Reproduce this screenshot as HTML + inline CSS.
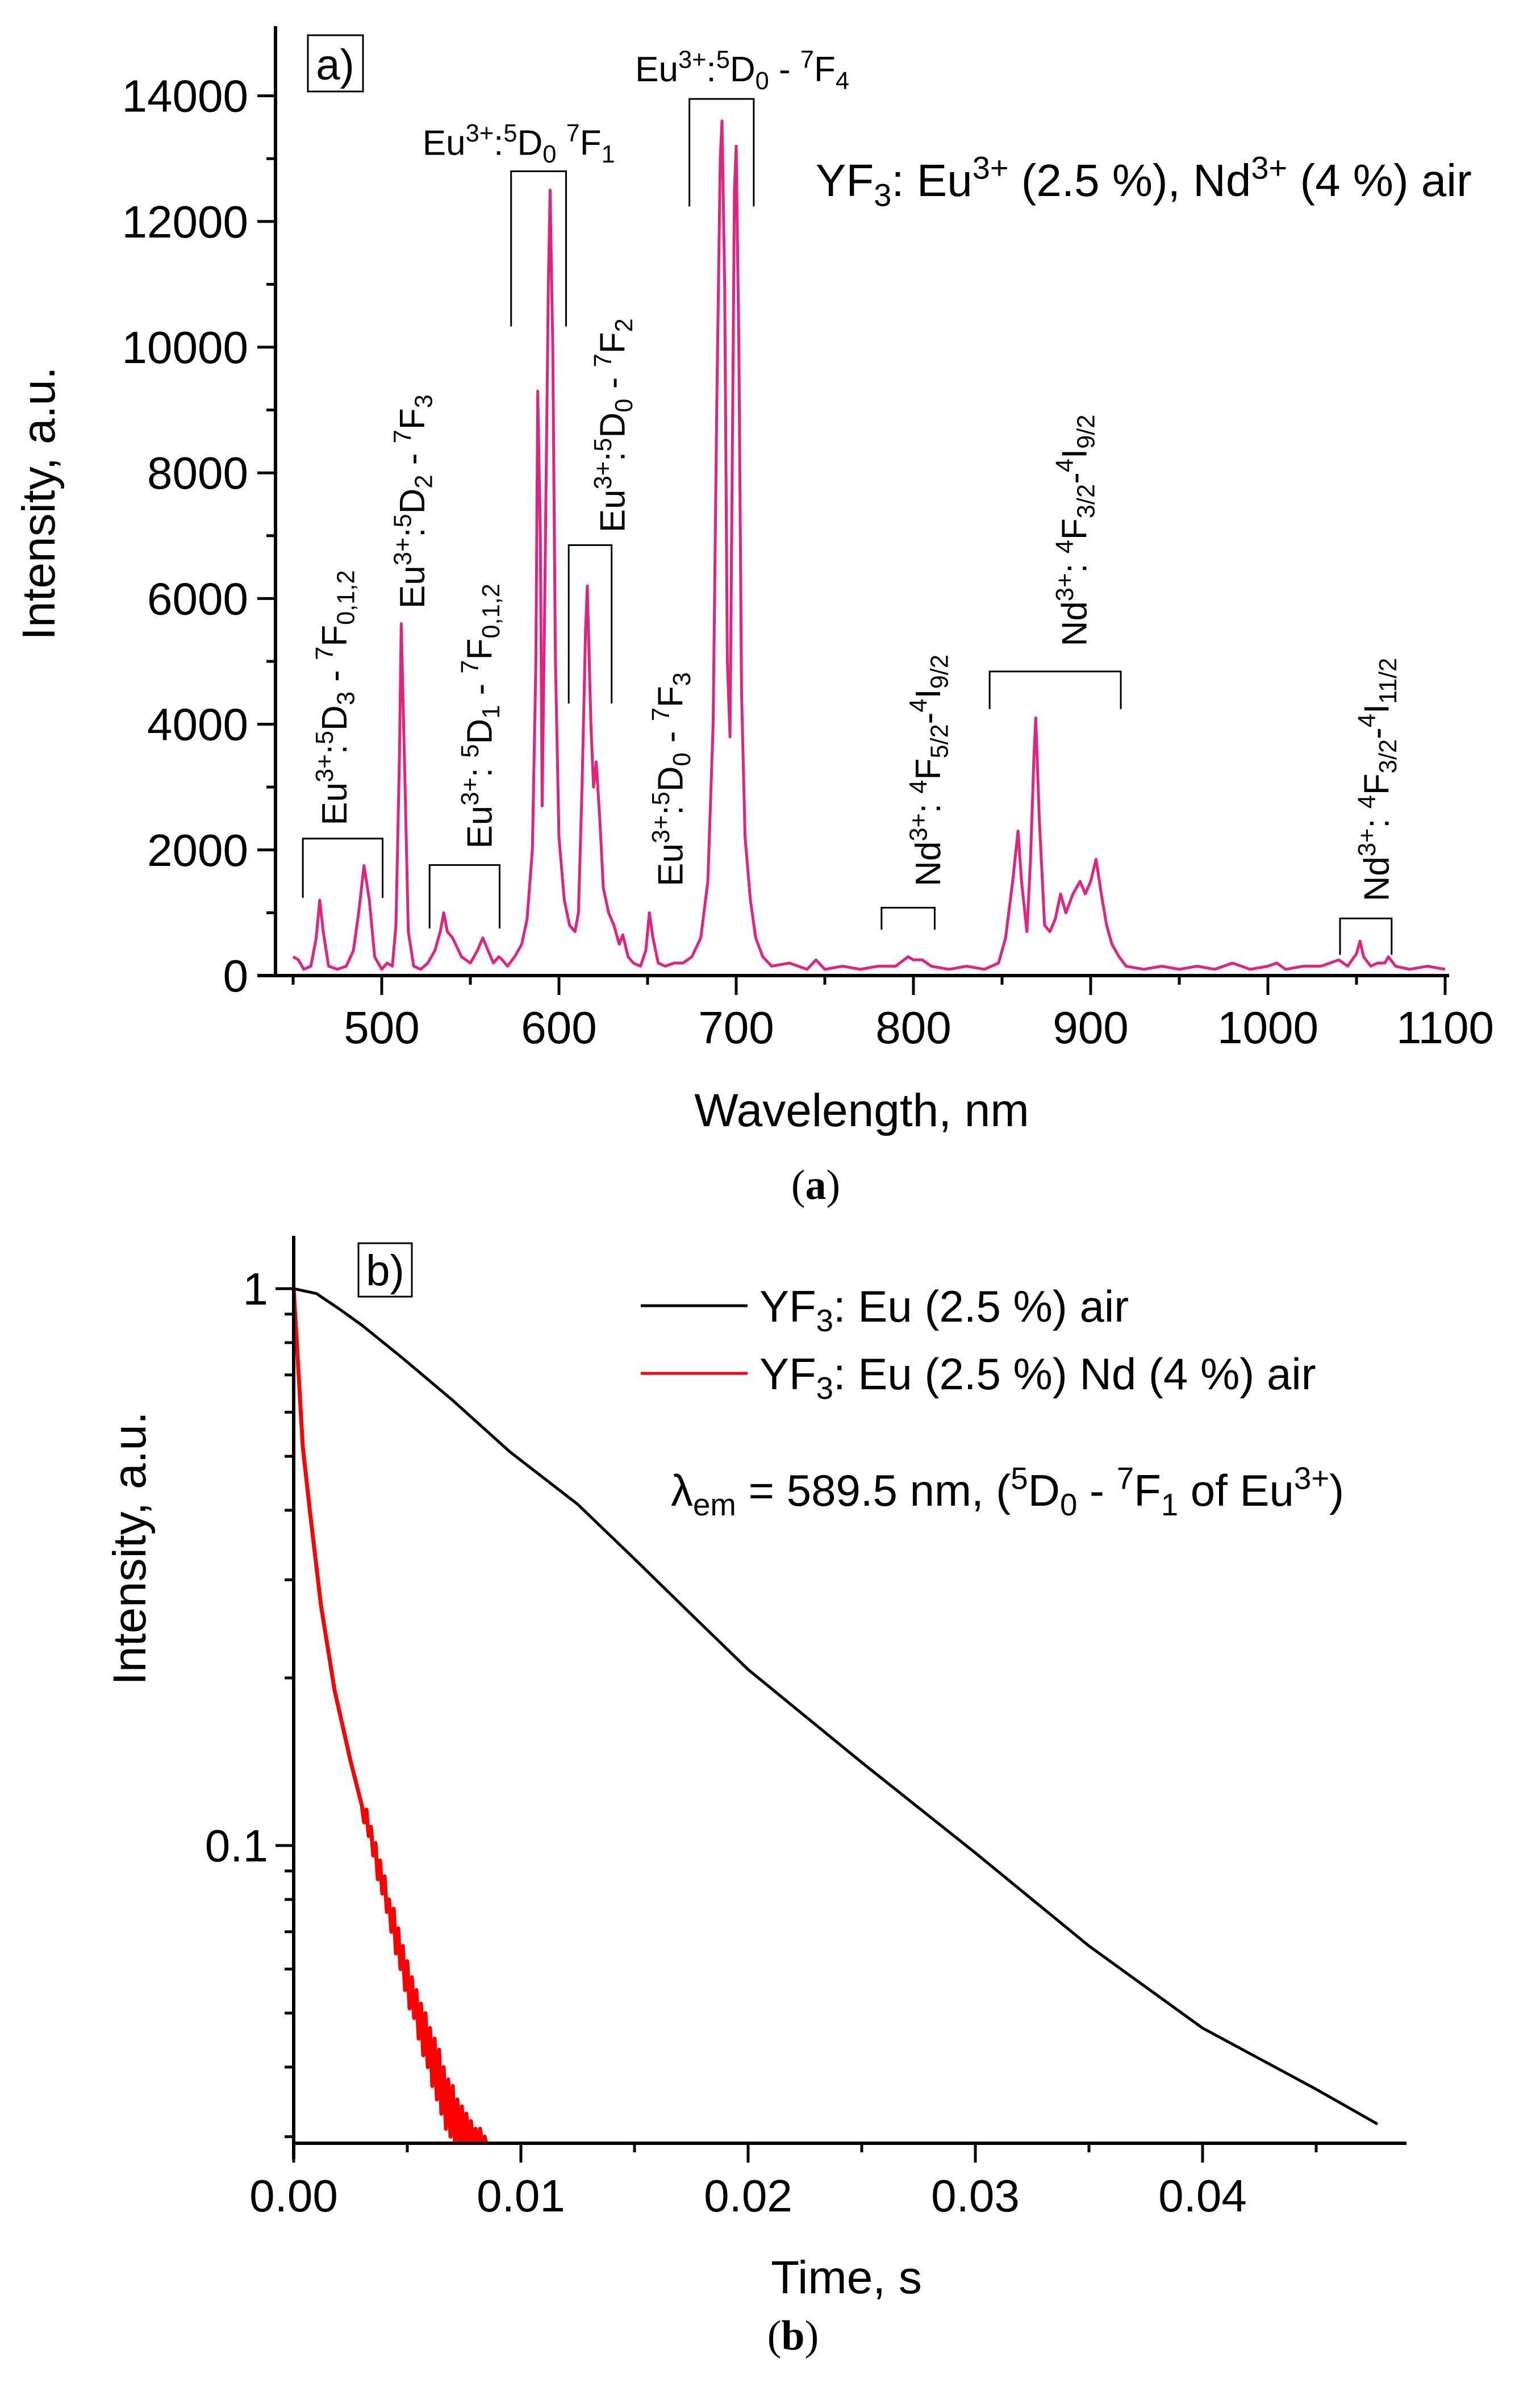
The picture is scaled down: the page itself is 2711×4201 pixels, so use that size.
<!DOCTYPE html>
<html><head><meta charset="utf-8">
<style>
html,body{margin:0;padding:0;background:#fff;}
svg{display:block;font-family:"Liberation Sans",sans-serif;}
</style></head>
<body>
<svg id="fig" width="2711" height="4201" viewBox="0 0 2711 4201" xmlns="http://www.w3.org/2000/svg">
<rect width="2711" height="4201" fill="#fff"/>
<g id="chartA"></g>
<g id="chartB"></g>
</svg>
<script>
// ===== Chart A data =====
const wavelengths = [450,453,456,460,463,465,467,470,475,480,484,487,490,493,496,500,503,506,508,510,511,513,515,518,522,526,530,533,535,537,540,545,550,554,557,560,563,566,568,571,575,579,582,585,587,588,589.5,590.5,592,594,595,596.5,598,600,603,606,609,611,613,615,616,618,619.5,621,623,625,628,631,634,636,639,642,646,649,651,653,656,660,665,670,675,680,684,687,689,691,692,693.5,695,696.5,698,699,700,701.5,703,705,708,711,715,720,730,740,745,750,760,770,780,790,797,800,805,810,820,830,840,848,852,856,859,861,864,866,868,869,871,874,877,880,883,886,890,894,897,900,903,906,909,912,916,920,930,940,950,960,970,980,990,1000,1005,1010,1020,1030,1040,1045,1050,1052,1054,1058,1062,1066,1068,1072,1080,1090,1100];
const intensities = [300,250,100,150,600,1200,700,150,100,150,400,1000,1750,1200,300,100,200,150,800,3500,5600,3200,700,150,100,200,400,700,1000,700,600,300,200,400,600,400,200,300,250,150,300,500,900,2000,5000,9300,7000,2700,6000,11000,12500,10000,5000,2200,1200,800,700,1000,3000,5500,6200,4000,3000,3400,2500,1400,1000,800,500,650,300,200,150,400,1000,600,200,150,200,200,300,600,1500,4000,9000,13000,13600,11000,5000,3800,9000,12500,13200,10000,4500,2200,1200,600,300,150,200,100,250,100,150,100,150,150,300,250,250,150,100,150,100,200,600,1500,2300,1500,700,1800,3500,4100,2500,800,700,900,1300,1000,1300,1500,1300,1500,1850,1300,800,500,300,150,100,150,100,150,100,200,100,150,200,100,150,150,250,150,350,550,300,150,200,200,300,150,100,150,100];
const yTicksA = [0,2000,4000,6000,8000,10000,12000,14000];
const xTicksA = [500,600,700,800,900,1000,1100];
const bracketStart = [455.5,527,573,605.5,673.6,782,843,1040.7];
const bracketEnd   = [500.5,566.5,604,629.7,709.9,812,917,1069.8];
const bracketTop   = [2180,1760,12800,6850,13950,1080,4840,910];
const bracketLegL  = [1236,750,10330,4330,12240,730,4240,330];
const bracketLegR  = [1236,750,10330,4330,12240,730,4240,330];
const labelText = ["Eu^{3+}:^{5}D_{3} - ^{7}F_{0,1,2}","Eu^{3+}:^{5}D_{2} - ^{7}F_{3}","Eu^{3+}: ^{5}D_{1} - ^{7}F_{0,1,2}","Eu^{3+}:^{5}D_{0} - ^{7}F_{2}","Eu^{3+}:^{5}D_{0} - ^{7}F_{3}","Nd^{3+}: ^{4}F_{5/2}-^{4}I_{9/2}","Nd^{3+}: ^{4}F_{3/2}-^{4}I_{9/2}","Nd^{3+}: ^{4}F_{3/2}-^{4}I_{11/2}"];
const labelNm = [473,517,555,630,662.6,808,890.6,1061];
const labelVal = [2390,5840,2020,7050,1420,1420,5240,1180];
const hLabelText = ["Eu^{3+}:^{5}D_{0}  ^{7}F_{1}","Eu^{3+}:^{5}D_{0} - ^{7}F_{4}"];
const hLabelNm = [523,643];
const hLabelVal = [13060,14230];

// ===== Chart B data =====
const tBlack = [0,0.001,0.002,0.003,0.0048,0.007,0.0095,0.0125,0.015,0.0175,0.02,0.025,0.03,0.035,0.04,0.045,0.0477];
const vBlack = [1,0.98,0.92,0.86,0.75,0.63,0.51,0.41,0.327,0.26,0.207,0.141,0.097,0.066,0.047,0.0365,0.0316];
const tRed = [0,0.0004,0.00074,0.0012,0.0018,0.0025,0.0030,0.0031,0.0032,0.0033,0.0034,0.0035,0.0036,0.0037,0.0038,0.0039,0.0040,0.0041,0.0042,0.0043,0.0044,0.0045,0.0046,0.0047,0.0048,0.0049,0.0050,0.0051,0.0052,0.0053,0.0054,0.0055,0.0056,0.0057,0.0058,0.0059,0.0060,0.0061,0.0062,0.0063,0.0064,0.0065,0.0066,0.0067,0.0068,0.0069,0.0070,0.0071,0.0072,0.0073,0.0074,0.0075,0.0076,0.0077,0.0078,0.0079,0.0080,0.0081,0.0082,0.0083,0.0084,0.0085];
const vRed = [1,0.52,0.39,0.27,0.19,0.142,0.118,0.110,0.116,0.104,0.108,0.096,0.101,0.087,0.094,0.082,0.088,0.076,0.080,0.070,0.077,0.064,0.071,0.060,0.066,0.055,0.062,0.051,0.058,0.049,0.055,0.045,0.052,0.042,0.050,0.040,0.047,0.037,0.045,0.035,0.043,0.033,0.040,0.031,0.038,0.030,0.037,0.029,0.035,0.029,0.034,0.029,0.033,0.029,0.032,0.029,0.031,0.029,0.031,0.029,0.030,0.029];
const xTicksB = [0,0.01,0.02,0.03,0.04];
const xTickLabelsB = ["0.00","0.01","0.02","0.03","0.04"];
const yTicksB = [1,0.1];
const yTickLabelsB = ["1","0.1"];

const NS="http://www.w3.org/2000/svg";
function mk(tag,attrs,parent){const e=document.createElementNS(NS,tag);for(const k in attrs)e.setAttribute(k,attrs[k]);parent.appendChild(e);return e;}
function rich(el,str,fs){
  const re=/(\^\{[^}]*\}|_\{[^}]*\}|[^\^_]+)/g;let m;let shift=0;
  while((m=re.exec(str))){
    const s=m[0];let txt=s,target=0,size=fs;
    if(s[0]==='^'){txt=s.slice(2,-1);target=-0.38*fs;size=fs*0.7;}
    else if(s[0]==='_'){txt=s.slice(2,-1);target=0.22*fs;size=fs*0.7;}
    const ts=mk('tspan',{dy:(target-shift),'font-size':size},el);
    ts.textContent=txt;shift=target;
  }
}

// ===== Chart A =====
const gA=document.getElementById('chartA');
const A={x0:485,y0:1717,pxPerNm:3.12,pxPerVal:0.1106};
function xA(nm){return 672+(nm-500)*A.pxPerNm;}
function yA(v){return A.y0-v*A.pxPerVal;}
const pink="#e3227f";
let d=wavelengths.map((w,i)=>(i?'L':'M')+xA(w).toFixed(1)+' '+yA(intensities[i]).toFixed(1)).join(' ');
const spec=mk('path',{d:d,fill:'none',stroke:pink,'stroke-width':5,'stroke-linejoin':'round'},gA);


const axA=mk('path',{d:`M${A.x0} 46 V${A.y0+3} M453 ${A.y0} H2551`,stroke:'#000','stroke-width':6,fill:'none'},gA);


for(let v=0;v<=14000;v+=1000){
  const major=v%2000===0;
  mk('line',{x1:A.x0,x2:A.x0-(major?32:16),y1:yA(v),y2:yA(v),stroke:'#000','stroke-width':5},gA);
}
for(let nm=450;nm<=1100;nm+=50){
  const major=nm%100===0;
  mk('line',{x1:xA(nm),x2:xA(nm),y1:A.y0,y2:A.y0+(major?34:16),stroke:'#000','stroke-width':5},gA);
}
yTicksA.forEach(v=>{
  const t=mk('text',{x:A.x0-48,y:yA(v)+28,'text-anchor':'end','font-size':80},gA);t.textContent=String(v);
  
  
});
xTicksA.forEach(v=>{
  const t=mk('text',{x:xA(v),y:1836,'text-anchor':'middle','font-size':80},gA);t.textContent=String(v);
  
  
});
bracketStart.forEach((s,i)=>{
  const b=mk('path',{d:`M${xA(s)} ${yA(bracketLegL[i])} V${yA(bracketTop[i])} H${xA(bracketEnd[i])} V${yA(bracketLegR[i])}`,fill:'none',stroke:'#000','stroke-width':3},gA);
  
  
});
labelText.forEach((s,i)=>{
  const x=xA(labelNm[i])+22,y=yA(labelVal[i]);
  const t=mk('text',{x:0,y:0,'font-size':62,transform:`translate(${x},${y}) rotate(-90)`},gA);
  rich(t,s,62);
  
  
});
hLabelText.forEach((s,i)=>{
  const t=mk('text',{x:xA(hLabelNm[i]),y:yA(hLabelVal[i]),'font-size':62},gA);
  rich(t,s,62);
  
  
});
const boxA=mk('rect',{x:542,y:62,width:97,height:99,fill:'#fff',stroke:'#000','stroke-width':3},gA);


const ta=mk('text',{x:590,y:140,'text-anchor':'middle','font-size':76},gA);ta.textContent='a)';


const sampA=mk('text',{x:1436,y:345,'font-size':80},gA);
rich(sampA,'YF_{3}: Eu^{3+} (2.5 %), Nd^{3+} (4 %) air',80);


const xtA=mk('text',{x:1517,y:1982,'text-anchor':'middle','font-size':82},gA);xtA.textContent='Wavelength, nm';


const ytA=mk('text',{x:0,y:0,'text-anchor':'middle','font-size':82,transform:'translate(96,886) rotate(-90)'},gA);ytA.textContent='Intensity, a.u.';


const capA=mk('text',{x:1436,y:2110,'text-anchor':'middle','font-size':74,'font-family':'Liberation Serif, serif'},gA);
capA.innerHTML='(<tspan font-weight="bold">a</tspan>)';



// ===== Chart B =====
const gB=document.getElementById('chartB');
const B={x0:517,y0:3772,pxPerT:40000,yOne:2268,decade:980};
function xB(t){return B.x0+t*B.pxPerT;}
function yB(v){return B.yOne-Math.log10(v)*B.decade;}
mk('clipPath',{id:'clipB'},gB);
mk('rect',{x:B.x0,y:2150,width:2000,height:B.y0-2150},document.getElementById('clipB'));
const black=mk('path',{d:tBlack.map((t,i)=>(i?'L':'M')+xB(t).toFixed(1)+' '+yB(vBlack[i]).toFixed(1)).join(' '),fill:'none',stroke:'#000','stroke-width':5,'stroke-linejoin':'round','clip-path':'url(#clipB)'},gB);


const red=mk('path',{d:tRed.map((t,i)=>(i?'L':'M')+xB(t).toFixed(1)+' '+yB(vRed[i]).toFixed(1)).join(' '),fill:'none',stroke:'#f00','stroke-width':7,'stroke-linejoin':'round','clip-path':'url(#clipB)'},gB);


const axB=mk('path',{d:`M${B.x0} 2175 V${B.y0+28} M${B.x0-3} ${B.y0} H2476`,stroke:'#000','stroke-width':6,fill:'none'},gB);


for(let k=0;k<=9;k++){
  const t=k*0.005;const major=k%2===0;
  mk('line',{x1:xB(t),x2:xB(t),y1:B.y0,y2:B.y0+(major?34:16),stroke:'#000','stroke-width':5},gB);
}
[1,0.9,0.8,0.7,0.6,0.5,0.4,0.3,0.2,0.1,0.09,0.08,0.07,0.06,0.05,0.04,0.03].forEach(v=>{
  const major=(v===1||v===0.1);
  mk('line',{x1:B.x0,x2:B.x0-(major?32:16),y1:yB(v),y2:yB(v),stroke:'#000','stroke-width':5},gB);
});
xTicksB.forEach((v,i)=>{
  const t=mk('text',{x:xB(v),y:3892,'text-anchor':'middle','font-size':80},gB);t.textContent=xTickLabelsB[i];
  
  
});
yTicksB.forEach((v,i)=>{
  const t=mk('text',{x:B.x0-45,y:yB(v)+28,'text-anchor':'end','font-size':80},gB);t.textContent=yTickLabelsB[i];
  
  
});
const boxB=mk('rect',{x:631,y:2188,width:94,height:94,fill:'#fff',stroke:'#000','stroke-width':3},gB);


const tb=mk('text',{x:678,y:2262,'text-anchor':'middle','font-size':76},gB);tb.textContent='b)';


const lg1=mk('line',{x1:1128,x2:1316,y1:2298,y2:2298,stroke:'#000','stroke-width':5},gB);


const lt1=mk('text',{x:1337,y:2326,'font-size':78},gB);rich(lt1,'YF_{3}: Eu (2.5 %) air',78);


const lg2=mk('line',{x1:1128,x2:1316,y1:2417,y2:2417,stroke:'#f00','stroke-width':5},gB);


const lt2=mk('text',{x:1337,y:2445,'font-size':78},gB);rich(lt2,'YF_{3}: Eu (2.5 %) Nd (4 %) air',78);


const lam=mk('text',{x:1181,y:2650,'font-size':78},gB);rich(lam,'λ_{em} = 589.5 nm, (^{5}D_{0} - ^{7}F_{1} of Eu^{3+})',78);


const xtB=mk('text',{x:1490,y:4036,'text-anchor':'middle','font-size':82},gB);xtB.textContent='Time, s';


const ytB=mk('text',{x:0,y:0,'text-anchor':'middle','font-size':82,transform:'translate(256,2725) rotate(-90)'},gB);ytB.textContent='Intensity, a.u.';


const capB=mk('text',{x:1396,y:4135,'text-anchor':'middle','font-size':74,'font-family':'Liberation Serif, serif'},gB);
capB.innerHTML='(<tspan font-weight="bold">b</tspan>)';


</script>
</body></html>
